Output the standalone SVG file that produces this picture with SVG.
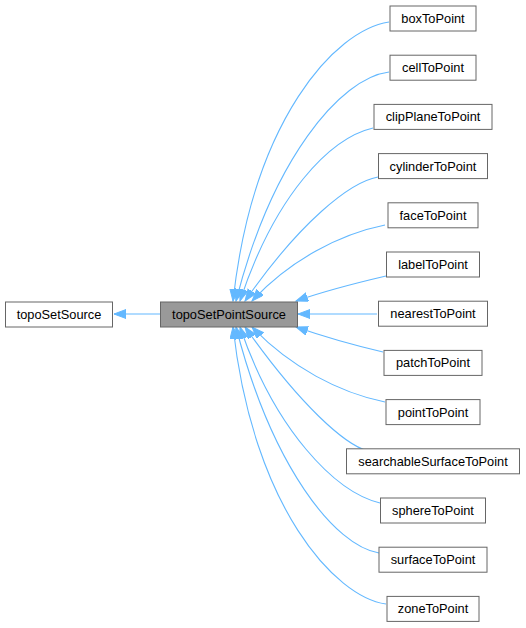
<svg xmlns="http://www.w3.org/2000/svg" width="526" height="628" viewBox="0 0 526 628">
<style>
  .n rect { fill: #ffffff; stroke: #666666; stroke-width: 1; }
  .n.cur rect { fill: #999999; }
  .n text { font-family: "Liberation Sans", Arial, Helvetica, sans-serif; font-size: 12.8px; fill: #000000; text-anchor: middle; }
  .e path { fill: none; stroke: #63b8ff; stroke-width: 1.1; marker-end: url(#arr); }
</style>
<defs>
  <marker id="arr" markerUnits="userSpaceOnUse" markerWidth="14" markerHeight="10" refX="12" refY="4.5" orient="auto">
    <path d="M0,0 L12,4.5 L0,9 z" fill="#63b8ff" stroke="#63b8ff" stroke-width="1"/>
  </marker>
</defs>
<rect width="526" height="628" fill="#ffffff"/>
<g id="edges" class="e">
  <path d="M160,314 L114,314"/>
  <path d="M389,22 C335,30 253,120 233,301"/>
  <path d="M389,72 C340,78 272,160 236,301"/>
  <path d="M373,128 C330,138 275,195 240,301"/>
  <path d="M378,177 C350,182 300,222 245,301"/>
  <path d="M385,225 C340,234 290,260 252,301"/>
  <path d="M386,276 C356,283 322,292 296,301"/>
  <path d="M377,314 L298,314"/>
  <path d="M383,352 C353,345 322,336 296,327"/>
  <path d="M385,402 C340,393 290,367 252,327"/>
  <path d="M368,451 C345,445 300,405 245,327"/>
  <path d="M380,503 C335,492 275,430 240,327"/>
  <path d="M379,553 C335,546 272,467 236,327"/>
  <path d="M386,604 C335,597 253,507 233,327"/>
</g>
<g id="topoSetSource" class="n"><rect x="5.5" y="302" width="107" height="25"/><text x="59" y="318.5">topoSetSource</text></g>
<g id="topoSetPointSource" class="n cur"><rect x="160.5" y="302" width="137" height="25"/><text x="229" y="318.5">topoSetPointSource</text></g>
<g id="boxToPoint" class="n"><rect x="390" y="6" width="86" height="25"/><text x="433" y="23">boxToPoint</text></g>
<g id="cellToPoint" class="n"><rect x="390" y="55.2" width="86" height="25"/><text x="433" y="72.2">cellToPoint</text></g>
<g id="clipPlaneToPoint" class="n"><rect x="374" y="104.4" width="118" height="25"/><text x="433" y="121.4">clipPlaneToPoint</text></g>
<g id="cylinderToPoint" class="n"><rect x="378.5" y="153.6" width="109" height="25"/><text x="433" y="170.6">cylinderToPoint</text></g>
<g id="faceToPoint" class="n"><rect x="388" y="202.8" width="90" height="25"/><text x="433" y="219.8">faceToPoint</text></g>
<g id="labelToPoint" class="n"><rect x="386.5" y="252" width="93" height="25"/><text x="433" y="269">labelToPoint</text></g>
<g id="nearestToPoint" class="n"><rect x="378.5" y="301.2" width="109" height="25"/><text x="433" y="318.2">nearestToPoint</text></g>
<g id="patchToPoint" class="n"><rect x="384" y="350.4" width="98" height="25"/><text x="433" y="367.4">patchToPoint</text></g>
<g id="pointToPoint" class="n"><rect x="386" y="399.6" width="94" height="25"/><text x="433" y="416.6">pointToPoint</text></g>
<g id="searchableSurfaceToPoint" class="n"><rect x="346.5" y="448.8" width="173" height="25"/><text x="433" y="465.8">searchableSurfaceToPoint</text></g>
<g id="sphereToPoint" class="n"><rect x="380.5" y="498" width="105" height="25"/><text x="433" y="515">sphereToPoint</text></g>
<g id="surfaceToPoint" class="n"><rect x="379" y="547.2" width="108" height="25"/><text x="433" y="564.2">surfaceToPoint</text></g>
<g id="zoneToPoint" class="n"><rect x="387" y="596.4" width="92" height="25"/><text x="433" y="613.4">zoneToPoint</text></g>
</svg>
